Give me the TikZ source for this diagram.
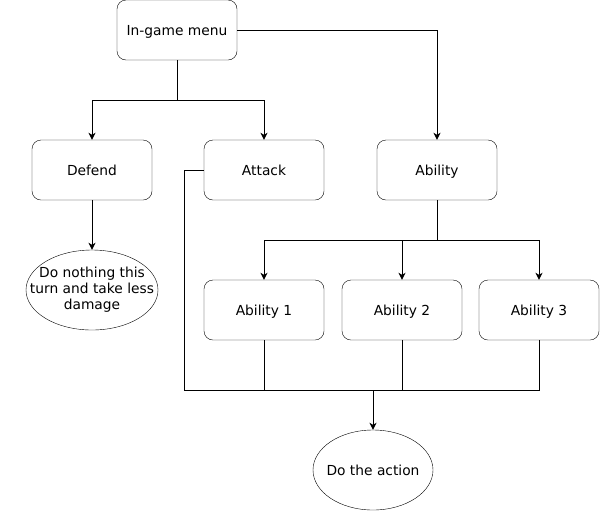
\documentclass[tikz,border=0pt]{standalone}
\usepackage{fontspec}
\setmainfont{DejaVu Sans}
\usepackage{tikz}
\usetikzlibrary{shapes.geometric, arrows.meta, positioning}

\begin{document}
\begin{tikzpicture}[x=1pt, y=-1pt,
  box/.style={draw, rounded corners=9pt, minimum width=120pt, minimum height=60pt, inner sep=0pt, text height=11pt, text depth=0pt, font=\fontsize{13.8}{16}\selectfont},
  oval/.style={draw, ellipse, inner sep=0pt},
  inside/.style={align=center, font=\fontsize{13.8}{16}\selectfont},
  link/.style={line width=1pt, -{Stealth[length=7pt, width=7pt, inset=2pt]}},
  wire/.style={line width=1pt}]
  \useasboundingbox (0,0) rectangle (601,512);

  % Top menu
  \node[box] (menu) at (177, 30) {In-game menu};

  % Choices
  \node[box] (defend) at (92, 170) {Defend};
  \node[box] (attack) at (264, 170) {Attack};
  \node[box] (ability) at (437, 170) {Ability};

  % Abilities
  \node[box] (abil1) at (264, 310) {Ability 1};
  \node[box] (abil2) at (402, 310) {Ability 2};
  \node[box] (abil3) at (539, 310) {Ability 3};

  % Outcomes
  \node[oval, minimum width=132pt, minimum height=80pt, label={[inside]center:Do nothing this\\turn and take less\\damage}] (nothing) at (92, 290) {};
  \node[oval, minimum width=120pt, minimum height=80pt, label={[inside]center:Do the action}] (action) at (373, 470) {};

  % Branch points
  \coordinate (split) at (177, 100);
  \coordinate (fork) at (437, 240);
  \coordinate (lane) at (184, 390);
  \coordinate (join) at (373, 390);

  % Menu to choices
  \draw[wire] (menu.south) -- (split);
  \draw[link] (split) -| (defend.north);
  \draw[link] (split) -| (attack.north);
  \draw[link] (menu.east) -| (ability.north);

  \draw[link] (defend.south) -- (nothing.north);

  % Ability to sub-abilities
  \draw[wire] (ability.south) -- (fork);
  \draw[link] (fork) -| (abil1.north);
  \draw[link] (fork) -| (abil2.north);
  \draw[link] (fork) -| (abil3.north);

  % Everything ends in the action
  \draw[wire] (attack.west) -| (lane) -- (join);
  \draw[wire] (abil1.south) |- (join);
  \draw[wire] (abil2.south) |- (join);
  \draw[wire] (abil3.south) |- (join);
  \draw[link] (join) -- (action.north);
\end{tikzpicture}
\end{document}
